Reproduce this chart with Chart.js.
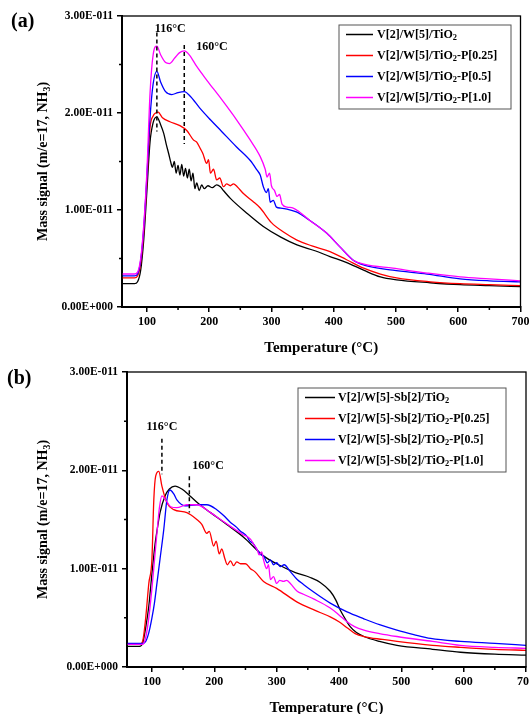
<!DOCTYPE html>
<html>
<head>
<meta charset="utf-8">
<script src="https://cdn.jsdelivr.net/npm/chart.js@4.4.0/dist/chart.umd.min.js"></script>
<style>
html, body { margin: 0; padding: 0; background: #fff; }
.panel { position: relative; width: 529px; height: 357px; }
</style>
</head>
<body>
<div class="panel"><canvas id="chartA" width="529" height="357"></canvas></div>
<div class="panel"><canvas id="chartB" width="529" height="357"></canvas></div>
<script>
// ticks (y values in units of 1E-011)
const xTicks = [100, 200, 300, 400, 500, 600, 700];
const xMinor = [150, 250, 350, 450, 550, 650];
const yTicks = [0, 1, 2, 3];
const yMinor = [0.5, 1.5, 2.5];
const peakTemps = [116, 160];

const namesA = ['V[2]/W[5]/TiO_2', 'V[2]/W[5]/TiO_2-P[0.25]', 'V[2]/W[5]/TiO_2-P[0.5]', 'V[2]/W[5]/TiO_2-P[1.0]'];
const namesB = ['V[2]/W[5]-Sb[2]/TiO_2', 'V[2]/W[5]-Sb[2]/TiO_2-P[0.25]', 'V[2]/W[5]-Sb[2]/TiO_2-P[0.5]', 'V[2]/W[5]-Sb[2]/TiO_2-P[1.0]'];

// panel (a) : [temperature, signal]
const aBlack = [[60,0.24],[80,0.24],[85,0.26],[90,0.38],[95,0.7],[100,1.2],[105,1.7],[110,1.9],[116,1.96],[122,1.88],[127,1.79],[131,1.68],[135,1.58],[138,1.5],[141,1.44],[144,1.5],[147,1.38],[150,1.46],[153,1.36],[156,1.47],[159,1.35],[162,1.43],[165,1.33],[168,1.42],[171,1.3],[174,1.38],[177,1.22],[180,1.28],[184,1.2],[188,1.26],[192,1.22],[198,1.25],[205,1.23],[212,1.26],[218,1.24],[223,1.2],[234,1.12],[260,0.97],[287,0.83],[315,0.72],[341,0.64],[370,0.58],[394,0.52],[420,0.46],[448,0.38],[475,0.31],[501,0.28],[555,0.25],[603,0.23],[650,0.22],[700,0.21]];
const aRed = [[60,0.3],[80,0.3],[85,0.32],[90,0.45],[95,0.78],[100,1.3],[105,1.85],[110,1.97],[114,2.0],[118,2.01],[125,1.95],[137,1.91],[153,1.87],[164,1.82],[175,1.72],[180,1.7],[186,1.63],[190,1.58],[196,1.48],[199,1.52],[202,1.38],[207,1.42],[212,1.31],[217,1.33],[223,1.24],[228,1.27],[234,1.25],[239,1.27],[245,1.24],[255,1.17],[270,1.09],[282,1.02],[300,0.87],[320,0.77],[341,0.69],[365,0.63],[394,0.57],[420,0.49],[448,0.4],[475,0.34],[501,0.3],[555,0.26],[603,0.24],[650,0.23],[700,0.22]];
const aBlue = [[60,0.32],[80,0.32],[85,0.34],[90,0.48],[95,0.82],[100,1.35],[105,1.95],[110,2.3],[116,2.43],[122,2.32],[130,2.22],[140,2.19],[150,2.21],[160,2.22],[170,2.17],[185,2.05],[202,1.93],[220,1.81],[244,1.65],[266,1.51],[277,1.41],[282,1.36],[287,1.24],[292,1.18],[295,1.22],[298,1.08],[303,1.1],[308,1.03],[315,1.02],[325,1.01],[340,0.98],[360,0.9],[389,0.76],[410,0.62],[432,0.48],[450,0.43],[495,0.38],[550,0.34],[603,0.29],[650,0.27],[700,0.26]];
const aMagenta = [[60,0.34],[80,0.34],[85,0.36],[90,0.5],[95,0.85],[100,1.4],[105,2.2],[110,2.6],[116,2.69],[122,2.6],[130,2.52],[136,2.51],[145,2.57],[152,2.62],[160,2.64],[168,2.6],[180,2.48],[196,2.34],[220,2.14],[244,1.93],[265,1.73],[282,1.55],[290,1.42],[293,1.34],[297,1.38],[300,1.25],[305,1.2],[309,1.14],[313,1.16],[317,1.06],[325,1.03],[335,1.02],[345,0.98],[360,0.9],[389,0.76],[410,0.62],[432,0.48],[450,0.44],[495,0.4],[550,0.35],[603,0.31],[650,0.29],[700,0.27]];

// panel (b)
const bBlack = [[60,0.21],[80,0.21],[85,0.24],[90,0.4],[95,0.62],[100,0.95],[105,1.25],[108,1.38],[113,1.57],[121,1.74],[128,1.81],[137,1.84],[148,1.81],[161,1.74],[175,1.66],[194,1.57],[220,1.45],[247,1.32],[279,1.13],[300,1.05],[330,0.96],[354,0.91],[370,0.86],[386,0.77],[395,0.68],[402,0.58],[410,0.49],[418,0.41],[428,0.35],[440,0.31],[465,0.26],[493,0.22],[550,0.18],[595,0.15],[650,0.13],[700,0.12]];
const bRed = [[60,0.23],[80,0.23],[85,0.26],[90,0.5],[95,0.85],[100,1.1],[103,1.7],[106,1.94],[111,1.99],[116,1.84],[124,1.67],[135,1.6],[156,1.57],[172,1.5],[180,1.45],[188,1.36],[192,1.38],[199,1.23],[203,1.28],[208,1.15],[212,1.2],[217,1.1],[221,1.04],[226,1.08],[231,1.03],[236,1.07],[242,1.05],[250,1.05],[258,1.0],[265,0.97],[279,0.87],[300,0.8],[333,0.66],[360,0.58],[386,0.51],[400,0.46],[413,0.4],[426,0.34],[440,0.31],[470,0.28],[493,0.26],[550,0.22],[595,0.2],[650,0.18],[700,0.17]];
const bBlue = [[60,0.24],[85,0.24],[90,0.26],[95,0.35],[100,0.5],[104,0.65],[108,0.85],[113,1.1],[119,1.4],[124,1.7],[129,1.8],[135,1.76],[140,1.7],[153,1.64],[172,1.65],[188,1.65],[204,1.6],[215,1.54],[226,1.47],[236,1.42],[242,1.38],[247,1.36],[252,1.33],[257,1.28],[262,1.26],[269,1.19],[275,1.14],[280,1.12],[285,1.06],[290,1.09],[295,1.04],[300,1.06],[306,1.02],[312,1.04],[322,0.97],[333,0.89],[343,0.84],[360,0.76],[386,0.65],[413,0.56],[440,0.49],[465,0.43],[493,0.375],[520,0.33],[547,0.29],[595,0.26],[650,0.24],[700,0.22]];
const bMagenta = [[60,0.23],[85,0.23],[90,0.3],[95,0.5],[100,0.8],[105,1.15],[108,1.36],[112,1.62],[116,1.74],[122,1.7],[130,1.63],[140,1.62],[156,1.65],[172,1.65],[194,1.57],[210,1.5],[226,1.43],[245,1.35],[258,1.3],[264,1.24],[269,1.19],[272,1.14],[276,1.17],[279,1.09],[284,1.0],[287,1.04],[290,0.89],[295,0.92],[300,0.85],[305,0.88],[311,0.87],[316,0.88],[322,0.85],[333,0.77],[343,0.74],[360,0.69],[386,0.6],[400,0.53],[413,0.46],[425,0.41],[440,0.375],[465,0.34],[493,0.31],[550,0.26],[595,0.22],[650,0.2],[700,0.19]];

const colors = ['#000000', '#ff0000', '#0000ff', '#ff00ff'];
const serif = '"Liberation Serif", "Times New Roman", serif';

function fmtY(v) {
    return v === 0 ? '0.00E+000' : v.toFixed(2) + 'E-011';
}

// text with "_x" subscripts
function parseRich(s) {
    const segs = [];
    for (let i = 0; i < s.length; i++) {
        if (s[i] === '_') { segs.push({ t: s[i + 1], sub: true }); i++; }
        else if (segs.length && !segs[segs.length - 1].sub) segs[segs.length - 1].t += s[i];
        else segs.push({ t: s[i], sub: false });
    }
    return segs;
}
function richWidth(ctx, s, size) {
    let w = 0;
    parseRich(s).forEach(g => {
        ctx.font = 'bold ' + (g.sub ? size * 0.7 : size) + 'px ' + serif;
        w += ctx.measureText(g.t).width;
    });
    return w;
}
function drawRich(ctx, s, x, y, size) {
    let cx = x;
    ctx.textAlign = 'left';
    ctx.textBaseline = 'middle';
    parseRich(s).forEach(g => {
        ctx.font = 'bold ' + (g.sub ? size * 0.7 : size) + 'px ' + serif;
        ctx.fillText(g.t, cx, g.sub ? y + size * 0.3 : y);
        cx += ctx.measureText(g.t).width;
    });
}

const decor = {
    id: 'decor',
    afterDraw(chart, args, o) {
        const ctx = chart.ctx, ca = chart.chartArea;
        const xs = chart.scales.x, ys = chart.scales.y;
        ctx.save();
        ctx.strokeStyle = '#000';
        ctx.fillStyle = '#000';
        ctx.lineWidth = 1.3;
        ctx.strokeRect(ca.left, ca.top, ca.right - ca.left, ca.bottom - ca.top);

        // minor ticks, shorter than the major ones
        ctx.lineWidth = 1.5;
        ctx.beginPath();
        xMinor.forEach(v => {
            const px = xs.getPixelForValue(v);
            ctx.moveTo(px, ca.bottom);
            ctx.lineTo(px, ca.bottom + 3);
        });
        yMinor.forEach(v => {
            const py = ys.getPixelForValue(v);
            ctx.moveTo(ca.left, py);
            ctx.lineTo(ca.left - 3, py);
        });
        ctx.stroke();

        // dashed peak markers
        ctx.setLineDash([4, 3]);
        o.peaks.forEach(p => {
            const px = xs.getPixelForValue(p.t);
            ctx.beginPath();
            ctx.moveTo(px, ys.getPixelForValue(p.to));
            ctx.lineTo(px, ys.getPixelForValue(p.from));
            ctx.stroke();
        });
        ctx.setLineDash([]);
        ctx.font = 'bold 12px ' + serif;
        ctx.textBaseline = 'middle';
        o.peaks.forEach(p => {
            ctx.textAlign = p.align;
            ctx.fillText(p.t + '°C', xs.getPixelForValue(p.t) + p.dx, ys.getPixelForValue(p.ly));
        });

        // panel tag
        ctx.font = 'bold 20px ' + serif;
        ctx.textAlign = 'left';
        ctx.fillText(o.tag, o.tagX, o.tagY);

        // axis titles
        ctx.font = 'bold 15px ' + serif;
        ctx.textAlign = 'center';
        ctx.fillText('Temperature (°C)', (ca.left + ca.right) / 2, o.xTitleY);
        const yt = 'Mass signal (m/e=17, NH_3)';
        ctx.save();
        ctx.translate(o.yTitleX, (ca.top + ca.bottom) / 2);
        ctx.rotate(-Math.PI / 2);
        drawRich(ctx, yt, -richWidth(ctx, yt, 14) / 2, 0, 14);
        ctx.restore();

        // legend
        const L = o.legend;
        ctx.strokeStyle = '#555';
        ctx.lineWidth = 1;
        ctx.strokeRect(L.x, L.y, L.w, L.h);
        o.names.forEach((n, i) => {
            const ry = L.y + L.first + i * L.step;
            ctx.strokeStyle = colors[i];
            ctx.lineWidth = 1.5;
            ctx.beginPath();
            ctx.moveTo(L.x1, ry);
            ctx.lineTo(L.x2, ry);
            ctx.stroke();
            drawRich(ctx, n, L.tx, ry, 12);
        });
        ctx.restore();
    }
};

function makeChart(id, series, names, lay, deco) {
    return new Chart(document.getElementById(id), {
        type: 'line',
        data: {
            datasets: series.map((s, i) => ({
                label: names[i],
                data: s.map(p => ({ x: p[0], y: p[1] })),
                borderColor: colors[i],
                borderWidth: 1.3,
                pointRadius: 0,
                cubicInterpolationMode: 'monotone',
                order: 4 - i
            }))
        },
        options: {
            responsive: false,
            animation: false,
            layout: { padding: { left: 0, top: lay.top, right: lay.right, bottom: 0 } },
            plugins: { legend: { display: false }, tooltip: { enabled: false }, decor: deco },
            scales: {
                x: {
                    type: 'linear', min: 60, max: 700,
                    afterBuildTicks: s => { s.ticks = xTicks.map(v => ({ value: v })); },
                    afterFit: s => { s.height = lay.xH; s.paddingLeft = 0; s.paddingRight = 0; },
                    grid: { drawOnChartArea: false, tickLength: 5, color: '#000', lineWidth: 1.5 },
                    border: { color: '#000', width: 2 },
                    ticks: {
                        color: '#000', padding: 3, maxRotation: 0, autoSkip: false,
                        font: { family: serif, size: 12, weight: 'bold' }
                    }
                },
                y: {
                    min: 0, max: 3,
                    afterBuildTicks: s => { s.ticks = yTicks.map(v => ({ value: v })); },
                    afterFit: s => { s.width = lay.yW; s.paddingTop = 0; s.paddingBottom = 0; },
                    grid: { drawOnChartArea: false, tickLength: 5, color: '#000', lineWidth: 1.5 },
                    border: { color: '#000', width: 2 },
                    ticks: {
                        color: '#000', padding: 4, autoSkip: false,
                        font: { family: serif, size: 11.5, weight: 'bold' },
                        callback: v => fmtY(v)
                    }
                }
            }
        },
        plugins: [decor]
    });
}

makeChart('chartA', [aBlack, aRed, aBlue, aMagenta], namesA,
    { top: 16, right: 8.5, yW: 122, xH: 50 },
    {
        tag: '(a)', tagX: 11, tagY: 22, xTitleY: 348, yTitleX: 43, names: namesA,
        peaks: [
            { t: peakTemps[0], from: 1.81, to: 2.83, ly: 2.87, dx: -2, align: 'left' },
            { t: peakTemps[1], from: 1.68, to: 2.70, ly: 2.68, dx: 12, align: 'left' }
        ],
        legend: { x: 339, y: 25, w: 172, h: 84, first: 9.5, step: 21, x1: 346, x2: 373, tx: 377 }
    });

makeChart('chartB', [bBlack, bRed, bBlue, bMagenta], namesB,
    { top: 15, right: 3, yW: 127, xH: 47 },
    {
        tag: '(b)', tagX: 7, tagY: 22, xTitleY: 351, yTitleX: 43, names: namesB,
        peaks: [
            { t: peakTemps[0], from: 1.96, to: 2.32, ly: 2.44, dx: 0, align: 'center' },
            { t: peakTemps[1], from: 1.57, to: 1.94, ly: 2.05, dx: 3, align: 'left' }
        ],
        legend: { x: 298, y: 31, w: 208, h: 84, first: 9.5, step: 21, x1: 305, x2: 335, tx: 338 }
    });
</script>
</body>
</html>
